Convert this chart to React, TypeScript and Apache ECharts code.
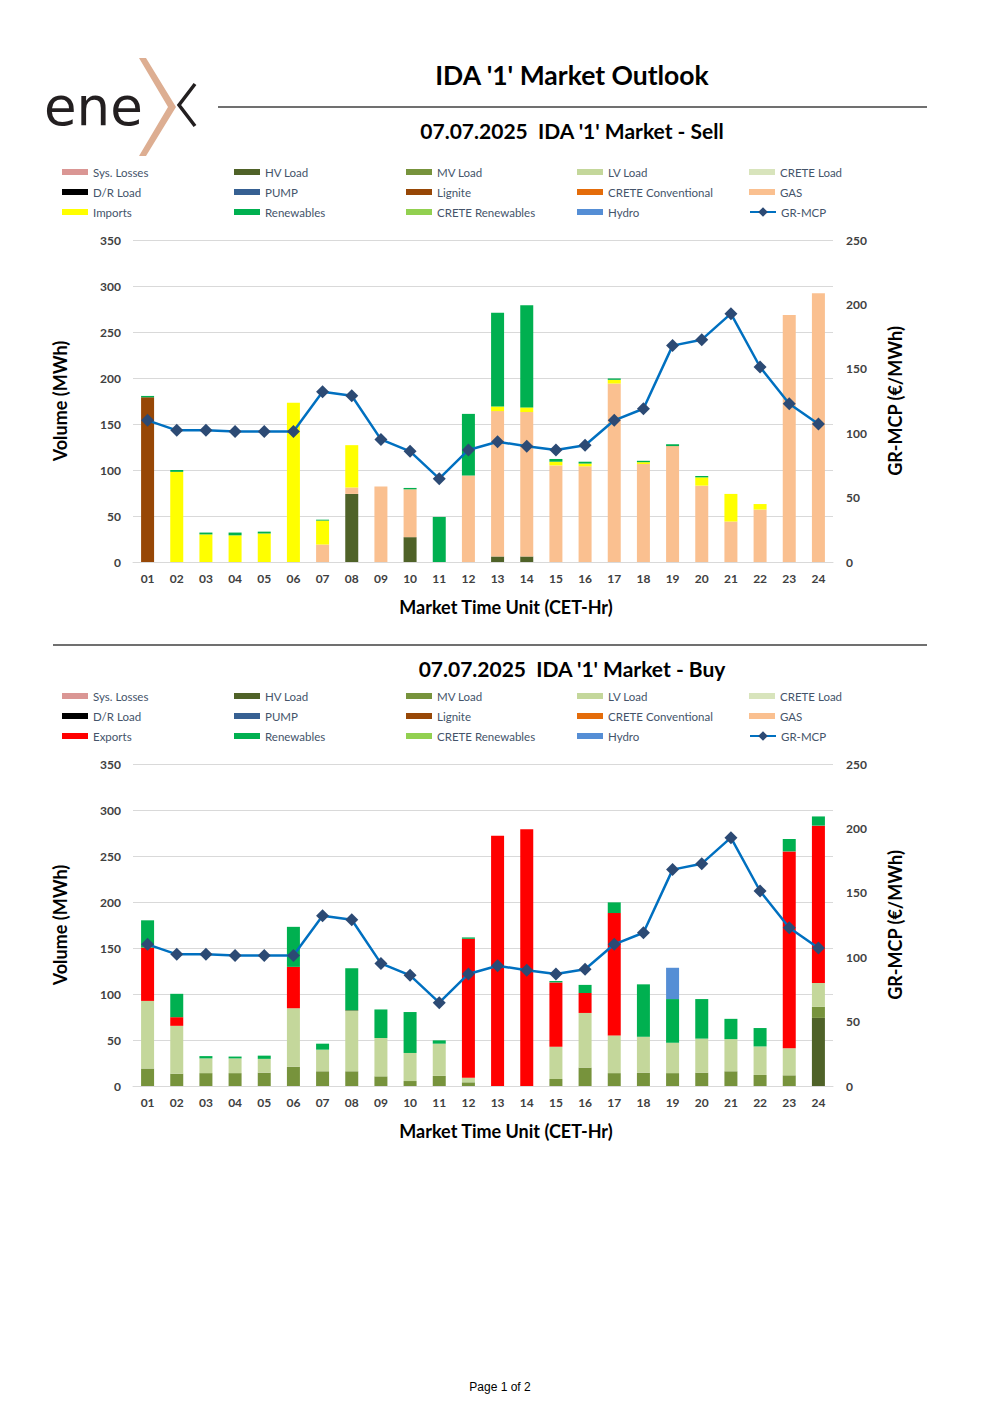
import React, { useEffect, useRef } from "react";
import * as echarts from "echarts";

// ---------- data ----------
const hours = ["01","02","03","04","05","06","07","08","09","10","11","12","13","14","15","16","17","18","19","20","21","22","23","24"];

// Sell side (MWh)
const sellHVLoad = [0,0,0,0,0,0,0,74,0,27,0,0,6,6,0,0,0,0,0,0,0,0,0,0];
const sellLignite = [179,0,0,0,0,0,0,0,0,0,0,0,0,0,0,0,0,0,0,0,0,0,0,0];
const sellGas = [0,0,0,0,0,0,19,7,82,52,0,94,158,157,105,104,194,106.5,126,83,44,57,268.5,292];
const sellImports = [0,98,30,29,31,173,26,46,0,0,0,0,5,5,4,3,4,2,0,9,30,6,0,0];
const sellRenewables = [1.5,2,2,3,2,0,1,0,0,1.5,49,67,102,111,3,2,1.5,1.5,2,1.5,0,0,0,0];

// Buy side (MWh)
const buyHVLoad = [0,0,0,0,0,0,0,0,0,0,0,0,0,0,0,0,0,0,0,0,0,0,0,74];
const buyMVLoad = [19,13.4,14,14,14.5,21,16,16,10.5,5.4,11,4,0,0,7.6,20,14,14.5,14,14.5,16,12,11.6,12];
const buyLVLoad = [73.5,52,16,16,15,63.5,23.5,65.5,41.7,30.5,35,5,0,0,35,59.4,41,39,33,37,35,31,29.4,26];
const buyExports = [58,9.4,0,0,0,45,0,0.5,0,0,0,151,272,279,70,21.7,133,0,0,0,0,0,214,171];
const buyRenewables = [29.6,25.4,2.5,2,3.5,43.5,6.5,46,31,44.5,3.6,1.5,0,0,1.5,8.8,11.6,57,47.5,43,22,20,13.5,10];
const buyHydro = [0,0,0,0,0,0,0,0,0,0,0,0,0,0,0,0,0,0,34,0,0,0,0,0];

// GR-MCP (€/MWh)
const grMcp = [110.0,102.2,102.2,101.4,101.4,101.4,132.2,129.1,95.2,85.9,64.7,87.0,93.4,89.8,87.0,90.6,110.0,119.0,168.0,172.6,192.8,151.4,122.9,107.1];

// Axis ticks
const volumeMin = 0, volumeMax = 350, volumeStep = 50;
const priceMin = 0, priceMax = 250, priceStep = 50;

// ---------- styles ----------
const FONT = "Lato, 'DejaVu Sans', sans-serif";
const COLORS: Record<string, string> = {
  "Sys. Losses": "#DA9694",
  "HV Load": "#4F6228",
  "MV Load": "#77933C",
  "LV Load": "#C4D79B",
  "CRETE Load": "#D8E4BC",
  "D/R Load": "#000000",
  "PUMP": "#366092",
  "Lignite": "#974706",
  "CRETE Conventional": "#E46C0A",
  "GAS": "#FAC090",
  "Imports": "#FFFF00",
  "Exports": "#FF0000",
  "Renewables": "#00B050",
  "CRETE Renewables": "#92D050",
  "Hydro": "#558ED5",
};

const sellStack: [string, number[]][] = [
  ["Sys. Losses", []],
  ["HV Load", sellHVLoad],
  ["MV Load", []],
  ["LV Load", []],
  ["CRETE Load", []],
  ["D/R Load", []],
  ["PUMP", []],
  ["Lignite", sellLignite],
  ["CRETE Conventional", []],
  ["GAS", sellGas],
  ["Imports", sellImports],
  ["Renewables", sellRenewables],
  ["CRETE Renewables", []],
  ["Hydro", []],
];
const buyStack: [string, number[]][] = [
  ["Sys. Losses", []],
  ["HV Load", buyHVLoad],
  ["MV Load", buyMVLoad],
  ["LV Load", buyLVLoad],
  ["CRETE Load", []],
  ["D/R Load", []],
  ["PUMP", []],
  ["Lignite", []],
  ["CRETE Conventional", []],
  ["GAS", []],
  ["Exports", buyExports],
  ["Renewables", buyRenewables],
  ["CRETE Renewables", []],
  ["Hydro", buyHydro],
];

const legendCols = [62, 234, 406, 577, 749];
const sellLegendRows = [
  ["Sys. Losses", "HV Load", "MV Load", "LV Load", "CRETE Load"],
  ["D/R Load", "PUMP", "Lignite", "CRETE Conventional", "GAS"],
  ["Imports", "Renewables", "CRETE Renewables", "Hydro", "GR-MCP"],
];
const buyLegendRows = [
  ["Sys. Losses", "HV Load", "MV Load", "LV Load", "CRETE Load"],
  ["D/R Load", "PUMP", "Lignite", "CRETE Conventional", "GAS"],
  ["Exports", "Renewables", "CRETE Renewables", "Hydro", "GR-MCP"],
];

function buildLegends(rows: string[][], rowTops: number[]) {
  const out: any[] = [];
  rows.forEach((row, r) => {
    row.forEach((name, c) => {
      const isLine = name === "GR-MCP";
      out.push({
        left: legendCols[c],
        top: rowTops[r] - 7,
        padding: 0,
        data: [isLine ? { name } : { name, icon: "rect" }],
        itemWidth: 26,
        itemHeight: isLine ? 12 : 6,
        textStyle: { color: "#44546A", fontSize: 11.5, fontFamily: FONT, lineHeight: 14 },
      });
    });
  });
  return out;
}

const axisLabelStyle = { color: "#404040", fontWeight: "bold" as const, fontSize: 12, fontFamily: FONT };
const axisNameStyle = { color: "#000000", fontWeight: "bold" as const, fontSize: 18, fontFamily: FONT };

function buildXAxis(gridIndex: number) {
  return {
    type: "category",
    gridIndex,
    data: hours,
    axisLine: { lineStyle: { color: "#D9D9D9" } },
    axisTick: { show: false },
    axisLabel: { ...axisLabelStyle, margin: 10 },
    name: "Market Time Unit (CET-Hr)",
    nameLocation: "middle",
    nameGap: 36,
    nameTextStyle: { ...axisNameStyle, padding: [0, 0, 0, 46] },
  };
}

function buildYAxes(gridIndex: number) {
  return [
    {
      type: "value",
      gridIndex,
      position: "left",
      min: volumeMin,
      max: volumeMax,
      interval: volumeStep,
      axisLine: { show: false },
      axisTick: { show: false },
      splitLine: { lineStyle: { color: "#D9D9D9" } },
      axisLabel: { ...axisLabelStyle, margin: 12 },
      name: "Volume (MWh)",
      nameLocation: "middle",
      nameGap: 64,
      nameTextStyle: axisNameStyle,
    },
    {
      type: "value",
      gridIndex,
      position: "right",
      min: priceMin,
      max: priceMax,
      interval: priceStep,
      axisLine: { show: false },
      axisTick: { show: false },
      splitLine: { show: false },
      axisLabel: { ...axisLabelStyle, margin: 13 },
      name: "GR-MCP (€/MWh)",
      nameLocation: "middle",
      nameGap: 53,
      nameTextStyle: axisNameStyle,
    },
  ];
}

function buildSeries(stackDef: [string, number[]][], stackId: string, xIdx: number, yIdx: number, yIdxLine: number) {
  const bars = stackDef.map(([name, data]) => ({
    type: "bar",
    name,
    data,
    stack: stackId,
    xAxisIndex: xIdx,
    yAxisIndex: yIdx,
    barWidth: 13,
    itemStyle: { color: COLORS[name] },
    emphasis: { disabled: true },
  }));
  const line = {
    type: "line",
    name: "GR-MCP",
    data: grMcp,
    xAxisIndex: xIdx,
    yAxisIndex: yIdxLine,
    symbol: "diamond",
    symbolSize: 13,
    z: 5,
    itemStyle: { color: "#2C4A74" },
    lineStyle: { color: "#0070C0", width: 2.5 },
    emphasis: { disabled: true },
  };
  return [...bars, line];
}

export default function App() {
  const ref = useRef<HTMLDivElement>(null);

  useEffect(() => {
    if (!ref.current) return;
    const chart = echarts.init(ref.current, null, { renderer: "svg" });

    const option: any = {
      animation: false,
      backgroundColor: "#ffffff",
      textStyle: { fontFamily: FONT },
      grid: [
        { left: 133, width: 700, top: 240, height: 322 },
        { left: 133, width: 700, top: 764, height: 322 },
      ],
      legend: [...buildLegends(sellLegendRows, [172, 192, 212]), ...buildLegends(buyLegendRows, [696, 716, 736])],
      xAxis: [buildXAxis(0), buildXAxis(1)],
      yAxis: [...buildYAxes(0), ...buildYAxes(1)],
      series: [...buildSeries(sellStack, "sell", 0, 0, 1), ...buildSeries(buyStack, "buy", 1, 2, 3)],
      graphic: [
        // logo
        {
          type: "text",
          x: 44,
          y: 106,
          style: { text: "ene", fill: "#231F20", font: "normal 53px 'DejaVu Sans', sans-serif", verticalAlign: "middle", align: "left" },
        },
        {
          type: "polygon",
          shape: { points: [[139, 58], [146, 58], [176, 107], [146, 156], [139, 156], [168, 107]] },
          style: { fill: "#DDAE92" },
        },
        {
          type: "polyline",
          shape: { points: [[195, 84], [179, 105], [195, 126]] },
          style: { stroke: "#231F20", lineWidth: 3.5, fill: "none" },
        },
        // header rule
        { type: "line", shape: { x1: 218, y1: 107, x2: 927, y2: 107 }, style: { stroke: "#404040", lineWidth: 1.3 } },
        {
          type: "text",
          x: 572,
          y: 75,
          style: { text: "IDA '1' Market Outlook", fill: "#000", font: `bold 26.5px ${FONT}`, align: "center", verticalAlign: "middle" },
        },
        {
          type: "text",
          x: 572,
          y: 130,
          style: { text: "07.07.2025  IDA '1' Market - Sell", fill: "#000", font: `bold 21px ${FONT}`, align: "center", verticalAlign: "middle" },
        },
        { type: "line", shape: { x1: 53, y1: 645, x2: 927, y2: 645 }, style: { stroke: "#404040", lineWidth: 1.3 } },
        {
          type: "text",
          x: 572,
          y: 668,
          style: { text: "07.07.2025  IDA '1' Market - Buy", fill: "#000", font: `bold 21px ${FONT}`, align: "center", verticalAlign: "middle" },
        },
        {
          type: "text",
          x: 500,
          y: 1387,
          style: { text: "Page 1 of 2", fill: "#000", font: "normal 12px 'Liberation Sans', Arial, sans-serif", align: "center", verticalAlign: "middle" },
        },
      ],
    };

    chart.setOption(option);
    return () => chart.dispose();
  }, []);

  return (
    <div
      ref={ref}
      style={{ position: "absolute", left: 0, top: 0, width: 1000, height: 1415, background: "#fff" }}
    />
  );
}
